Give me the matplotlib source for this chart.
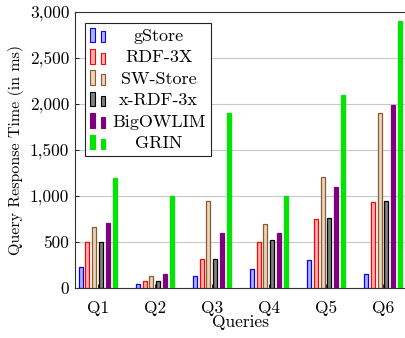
import numpy as np
import matplotlib
matplotlib.use("Agg")
import matplotlib.pyplot as plt
from matplotlib.patches import Rectangle
from matplotlib.legend_handler import HandlerBase
from matplotlib.ticker import FuncFormatter

plt.rcParams['font.family'] = ['cmr10', 'DejaVu Serif']
plt.rcParams['axes.formatter.use_mathtext'] = True

queries = ["Q1", "Q2", "Q3", "Q4", "Q5", "Q6"]
systems = ["gStore", "RDF-3X", "SW-Store", "x-RDF-3x", "BigOWLIM", "GRIN"]

gstore = [225, 40, 125, 210, 300, 150]
rdf3x = [500, 75, 310, 500, 750, 930]
swstore = [660, 125, 950, 700, 1210, 1900]
xrdf3x = [500, 80, 315, 525, 755, 940]
bigowlim = [705, 155, 600, 600, 1100, 1990]
grin = [1200, 1000, 1900, 1000, 2100, 2900]

series = [gstore, rdf3x, swstore, xrdf3x, bigowlim, grin]
edges = ["#0000ff", "#ff0000", "#8b5a2b", "#000000", "#7f007f", "#00e600"]
fills = ["#b3b3ff", "#ffb3b3", "#e8d5bf", "#808080", "#7f007f", "#00e600"]
FS = 12.5


# pgfplots style legend image: two little bars side by side
class TwoBars(HandlerBase):
    def create_artists(self, legend, orig, xd, yd, width, height, fontsize, trans):
        w = width * 0.25
        out = []
        for x0, h in [(xd + width * 0.0, height * 1.15), (xd + width * 0.58, height * 0.85)]:
            r = Rectangle((x0, yd - 0.1 * height), w, h,
                          facecolor=orig.get_facecolor(), edgecolor=orig.get_edgecolor(),
                          linewidth=0.8, transform=trans)
            out.append(r)
        return out


fig = plt.figure(figsize=(4.05, 3.38), dpi=100)
ax = fig.add_axes([0.185, 0.148, 0.817, 0.817])

x = np.arange(1, len(queries) + 1)
pitch = 0.12
width = 0.07
handles = []
for i, vals in enumerate(series):
    b = ax.bar(x + (i - 2.5) * pitch, vals, width, color=fills[i],
               edgecolor=edges[i], linewidth=0.9, label=systems[i], zorder=3)
    handles.append(b[0])

ax.set_xlim(0.6, 6.4)
ax.set_ylim(0, 3000)
ax.set_yticks(np.arange(0, 3001, 500))
ax.yaxis.set_major_formatter(FuncFormatter(lambda v, p: f"{int(v):,}"))
ax.set_xticks(x)
ax.set_xticklabels(queries)
ax.grid(axis='y', color='#c8c8c8', linewidth=0.8, zorder=0)
ax.tick_params(axis='both', direction='in', labelsize=FS, length=3, width=0.6)
ax.tick_params(axis='x', pad=9)
ax.tick_params(axis='y', pad=4)
for s in ax.spines.values():
    s.set_linewidth(0.8)
    s.set_color('#333333')

ax.set_ylabel("Query Response Time (in ms)", fontsize=11.5, labelpad=4)
ax.set_xlabel("Queries", fontsize=12.5, labelpad=-1)

leg = ax.legend(handles=handles, labels=systems, loc='upper left',
                bbox_to_anchor=(0.03, 0.96), fontsize=13,
                handler_map={h: TwoBars() for h in handles},
                fancybox=False, framealpha=1, edgecolor='#222222',
                handlelength=1.0, handletextpad=0.2, labelspacing=0.32,
                borderpad=0.3, borderaxespad=0)
leg.get_frame().set_linewidth(0.8)

# center the labels inside the text column
fig.canvas.draw()
r = fig.canvas.get_renderer()
widths = [t.get_window_extent(r).width for t in leg.get_texts()]
maxw = max(widths)
for t, w in zip(leg.get_texts(), widths):
    t.set_position(((maxw - w) / 2, 0))

fig.savefig("out.png", dpi=100)
